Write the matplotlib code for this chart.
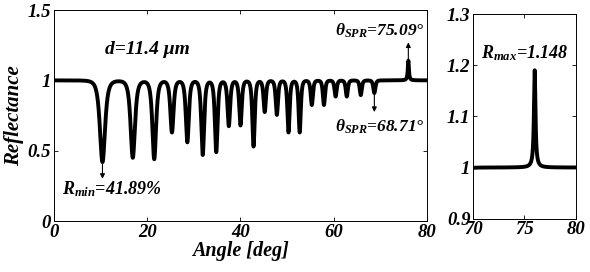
import numpy as np
import matplotlib
matplotlib.use('agg')
import matplotlib.pyplot as plt

plt.rcParams['font.family'] = ['Liberation Serif', 'DejaVu Serif']
plt.rcParams['font.weight'] = 'bold'
plt.rcParams['font.style'] = 'italic'
plt.rcParams['mathtext.fontset'] = 'custom'
plt.rcParams['mathtext.rm'] = 'Liberation Serif'
plt.rcParams['mathtext.it'] = 'Liberation Serif:italic'
plt.rcParams['mathtext.bf'] = 'Liberation Serif:bold:italic'

# dips (angle in deg, minimum reflectance, half width)
dip_angle = [10.4, 16.9, 21.5, 25.3, 28.6, 31.9, 34.8, 37.5, 40.0, 42.8,
             45.2, 47.8, 50.3, 52.7, 55.3, 57.9, 60.4, 62.8, 65.8, 68.71]
dip_min = [0.419, 0.45, 0.44, 0.63, 0.56, 0.47, 0.49, 0.675, 0.68, 0.53,
           0.775, 0.755, 0.63, 0.63, 0.825, 0.825, 0.885, 0.885, 0.895, 0.91]
dip_width = [1.0, 0.85, 0.72, 0.62, 0.58, 0.55, 0.52, 0.5, 0.48, 0.46,
             0.45, 0.44, 0.43, 0.42, 0.42, 0.41, 0.41, 0.4, 0.4, 0.4]
dip_shape = 2.0

# SPR peak
peak_angle = 76.0
peak_main = 1.14
peak_inset = 1.19
peak_width_main = 0.14
peak_width_inset = 0.09

main_ticks_x = [0, 20, 40, 60, 80]
main_ticks_y = [0, 0.5, 1, 1.5]
main_ticklabels_y = ['0', '0.5', '1', '1.5']
inset_ticks_x = [70, 75, 80]
inset_ticks_y = [0.9, 1.0, 1.1, 1.2, 1.3]
inset_ticklabels_y = ['0.9', '1', '1.1', '1.2', '1.3']


def curve(x, peak, pw):
	r = np.ones_like(x)
	for a, m, g in zip(dip_angle, dip_min, dip_width):
		r -= (1 - m) / (1 + ((x - a) / g) ** 2) ** dip_shape
	r += (peak - 1) * pw ** 2 / ((x - peak_angle) ** 2 + pw ** 2)
	return r


fig = plt.figure(figsize=(5.9, 2.72), dpi=100)
ax = fig.add_axes([0.0915, 0.1875, 0.6322, 0.7755])
ax2 = fig.add_axes([0.802, 0.196, 0.1738, 0.7525])

x = np.linspace(0, 80, 16001)
ax.plot(x, curve(x, peak_main, peak_width_main), color='k', lw=2.8)
ax.set_xlim(0, 80)
ax.set_ylim(0, 1.5)
ax.set_xticks(main_ticks_x)
ax.set_yticks(main_ticks_y)
ax.set_yticklabels(main_ticklabels_y)
ax.set_xlabel('Angle [deg]', fontsize=14.5, fontweight='bold', labelpad=0)
ax.set_ylabel('Reflectance', fontsize=15, fontweight='bold', labelpad=3)

xi = np.linspace(70, 80, 4001)
ax2.plot(xi, curve(xi, peak_inset, peak_width_inset), color='k', lw=2.8)
ax2.set_xlim(70, 80)
ax2.set_ylim(0.9, 1.3)
ax2.set_xticks(inset_ticks_x)
ax2.set_yticks(inset_ticks_y)
ax2.set_yticklabels(inset_ticklabels_y)

for a in (ax, ax2):
	a.tick_params(direction='in', top=True, right=True, length=3, width=0.6,
	              labelsize=13.5, pad=2)
	for s in a.spines.values():
		s.set_linewidth(0.7)

ax.text(10.9, 1.19, 'd=11.4 μm', fontsize=14)

arr = dict(arrowstyle='-|>', color='k', lw=0.8, mutation_scale=7)
ax.annotate('', xy=(10.4, 0.28), xytext=(10.4, 0.43), arrowprops=arr)
ax.text(1.7, 0.192, r'$\mathbf{R}_{\mathit{min}}$=41.89%', fontsize=13)

ax.annotate('', xy=(68.71, 0.755), xytext=(68.71, 0.92), arrowprops=arr)
ax.text(60.3, 0.635, r'$\mathit{\theta}_{\mathrm{SPR}}$=68.71°', fontsize=12.5)

ax.annotate('', xy=(76.0, 1.29), xytext=(76.0, 1.13), arrowprops=arr)
ax.text(60.3, 1.32, r'$\mathit{\theta}_{\mathrm{SPR}}$=75.09°', fontsize=12.5)

ax2.text(70.8, 1.214, r'$\mathbf{R}_{\mathit{max}}$=1.148', fontsize=13)

plt.savefig('out.png', dpi=100)
